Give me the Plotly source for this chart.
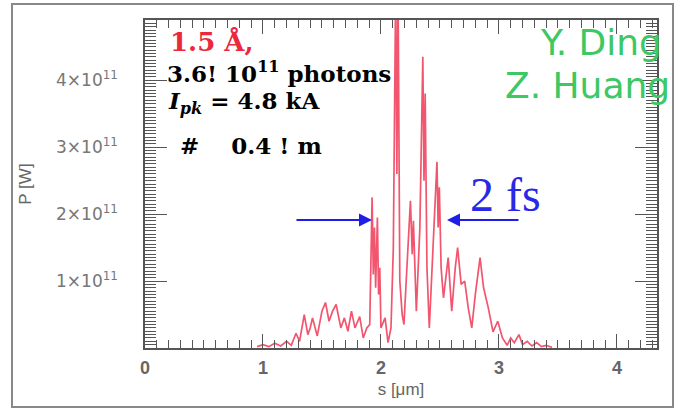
import plotly.graph_objects as go

# ---- data ----
s_um = [0.95, 1.00, 1.05, 1.10, 1.15, 1.20, 1.24, 1.28, 1.31, 1.35, 1.38, 1.40, 1.42, 1.46,
        1.50, 1.53, 1.56, 1.59, 1.62, 1.66, 1.69, 1.72, 1.75, 1.78, 1.82, 1.85, 1.88, 1.905,
        1.925, 1.935, 1.945, 1.955, 1.970, 1.980, 1.990, 2.000, 2.035, 2.06, 2.085, 2.105,
        2.125, 2.135, 2.145, 2.16, 2.18, 2.195, 2.22, 2.25, 2.265, 2.275, 2.30, 2.33, 2.355,
        2.365, 2.375, 2.39, 2.41, 2.44, 2.475, 2.485, 2.495, 2.51, 2.53, 2.57, 2.60, 2.63,
        2.65, 2.68, 2.71, 2.74, 2.77, 2.80, 2.84, 2.87, 2.91, 2.95, 2.99, 3.03, 3.07, 3.10,
        3.13, 3.17, 3.20, 3.24, 3.28, 3.32, 3.36, 3.40, 3.45]
p_1e11 = [0.02, 0.05, 0.02, 0.07, 0.03, 0.10, 0.04, 0.22, 0.10, 0.50, 0.20, 0.30, 0.45, 0.18,
          0.55, 0.68, 0.40, 0.55, 0.65, 0.30, 0.45, 0.25, 0.55, 0.30, 0.47, 0.15, 0.30, 0.35,
          2.25, 1.10, 1.80, 0.90, 1.95, 0.80, 1.20, 0.30, 0.45, 0.08, 0.30, 1.50,
          5.40, 2.60, 5.40, 1.00, 0.50, 0.35, 1.20, 2.20, 1.40, 1.90, 0.55, 1.80, 4.35,
          2.50, 3.80, 1.20, 0.30, 1.50, 2.78, 1.80, 2.40, 1.20, 0.75, 1.35, 0.55, 1.20,
          1.50, 0.95, 1.00, 0.60, 0.30, 0.80, 1.35, 0.90, 0.60, 0.24, 0.40, 0.15, 0.04, 0.15,
          0.08, 0.20, 0.05, 0.10, 0.03, 0.08, 0.02, 0.04, 0.01]

x_ticks = [0, 1, 2, 3, 4]
x_tick_labels = ["<b>0</b>", "<b>1</b>", "<b>2</b>", "<b>3</b>", "<b>4</b>"]
y_ticks = [1, 2, 3, 4]
y_tick_labels = ["1×10<sup>11</sup>", "2×10<sup>11</sup>", "3×10<sup>11</sup>", "4×10<sup>11</sup>"]

W, H = 681, 410
L, R, T, B = 145, 657, 20, 348


def px(x):
    return (x - L) / (R - L)


def py(y):
    return (B - y) / (B - T)


fig = go.Figure()
fig.add_trace(go.Scatter(x=s_um, y=p_1e11, mode="lines",
                         line=dict(color="rgb(242,85,110)", width=1.7),
                         hoverinfo="skip", showlegend=False))

axis_col = "#555555"
fig.update_xaxes(range=[0, 4.34], tickvals=x_ticks, ticktext=x_tick_labels,
                 ticks="inside", ticklen=14, tickwidth=1.2, tickcolor=axis_col,
                 minor=dict(dtick=0.1, ticks="inside", ticklen=8, tickcolor=axis_col, tickwidth=1),
                 showline=True, linecolor=axis_col, linewidth=1.5, mirror="ticks",
                 showgrid=False, zeroline=False, automargin=False,
                 tickfont=dict(family="Arial", size=18, color="#666666"),
                 ticklabelstandoff=3,
                 title=dict(text="s [μm]", font=dict(family="Arial", size=17, color="#666666"),
                            standoff=6))
fig.update_yaxes(range=[0, 4.9], tickvals=y_ticks, ticktext=y_tick_labels,
                 ticks="inside", ticklen=22, tickwidth=1.2, tickcolor=axis_col,
                 minor=dict(dtick=0.05, ticks="inside", ticklen=11, tickcolor=axis_col, tickwidth=1),
                 showline=True, linecolor=axis_col, linewidth=1.5, mirror="ticks",
                 showgrid=False, zeroline=False, automargin=False,
                 tickfont=dict(family="DejaVu Sans", size=17, color="#777777"),
                 ticklabelstandoff=22,
                 title=dict(text="P [W]", font=dict(family="Arial", size=17, color="#666666"),
                            standoff=20))

ann = []
serif = "DejaVu Serif"
ann.append(dict(x=px(168), y=py(42), xref="paper", yref="paper", xanchor="left", yanchor="middle",
                text="<b>1.5 Å,</b>", showarrow=False,
                font=dict(family=serif, size=26, color="rgb(235,40,60)")))
ann.append(dict(x=px(165), y=py(72), xref="paper", yref="paper", xanchor="left", yanchor="middle",
                text="<b>3.6! 10<sup>11</sup> photons</b>", showarrow=False,
                font=dict(family=serif, size=23, color="black")))
ann.append(dict(x=px(166), y=py(102), xref="paper", yref="paper", xanchor="left", yanchor="middle",
                text="<b><i>I</i><sub><i>pk</i></sub> = 4.8 kA</b>", showarrow=False,
                font=dict(family=serif, size=23, color="black")))
ann.append(dict(x=px(178), y=py(145), xref="paper", yref="paper", xanchor="left", yanchor="middle",
                text="<b>#    0.4 ! m</b>", showarrow=False,
                font=dict(family=serif, size=23, color="black")))
ann.append(dict(x=px(664), y=py(43), xref="paper", yref="paper", xanchor="right", yanchor="middle",
                text="Y. Ding", showarrow=False,
                font=dict(family="DejaVu Sans", size=36, color="rgb(60,200,100)")))
ann.append(dict(x=px(672), y=py(86), xref="paper", yref="paper", xanchor="right", yanchor="middle",
                text="Z. Huang", showarrow=False,
                font=dict(family="DejaVu Sans", size=36, color="rgb(60,200,100)")))
ann.append(dict(x=px(468), y=py(195), xref="paper", yref="paper", xanchor="left", yanchor="middle",
                text="2 fs", showarrow=False,
                font=dict(family="Liberation Serif", size=48, color="rgb(40,40,230)")))
# arrows
ann.append(dict(x=px(372), y=py(220), xref="paper", yref="paper", text="", showarrow=True,
                ax=-77, ay=0, arrowhead=2, arrowsize=1.3, arrowwidth=2, arrowcolor="rgb(30,30,230)"))
ann.append(dict(x=px(447), y=py(220), xref="paper", yref="paper", text="", showarrow=True,
                ax=73, ay=0, arrowhead=2, arrowsize=1.3, arrowwidth=2, arrowcolor="rgb(30,30,230)"))

shapes = [dict(type="rect", xref="paper", yref="paper",
               x0=px(12), x1=px(673), y0=py(407), y1=py(4),
               line=dict(color="#888888", width=2), fillcolor="rgba(0,0,0,0)", layer="below")]

fig.update_layout(width=W, height=H, margin=dict(l=L, r=W - R, t=T, b=H - B),
                  paper_bgcolor="white", plot_bgcolor="white",
                  annotations=ann, shapes=shapes, showlegend=False)

fig.write_html("out.html", config={"displayModeBar": False},
               post_script="document.body.style.margin='0';document.body.style.overflow='hidden';")
